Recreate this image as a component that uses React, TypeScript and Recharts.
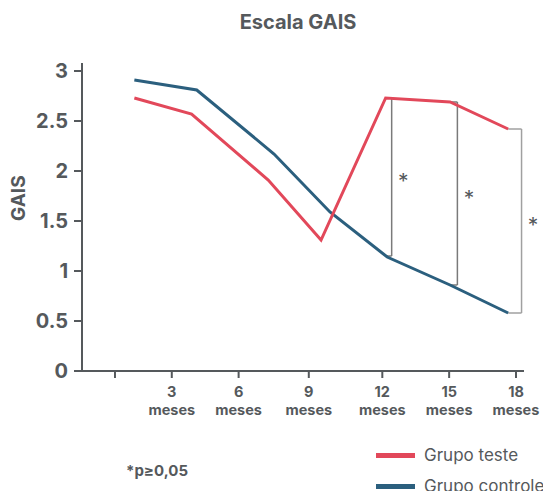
import React from "react";
import { LineChart, Line, XAxis, YAxis, ReferenceLine, ReferenceDot } from "recharts";

// posições no eixo x em "meses"
const xTickPos = [0, 2.55, 5.55, 8.7, 12, 15, 18];
const xTickLabels = ["", "3", "6", "9", "12", "15", "18"];
const yTicks = [0, 0.5, 1, 1.5, 2, 2.5, 3];

const testeX = [0.87, 3.44, 6.88, 9.25, 12.15, 15.04, 17.65];
const testeY = [2.73, 2.57, 1.91, 1.31, 2.73, 2.69, 2.42];
const controleX = [0.87, 3.67, 7.14, 9.65, 12.22, 15.04, 17.65];
const controleY = [2.91, 2.81, 2.17, 1.59, 1.14, 0.86, 0.58];

// colchetes de significância: ponto de partida, largura, topo, base
const bracketX = [12.15, 15.04, 17.65];
const bracketW = [0.27, 0.33, 0.6];
const bracketTop = [2.73, 2.69, 2.42];
const bracketBottom = [1.15, 0.86, 0.58];

const RED = "#e2485a";
const BLUE = "#2b5f7e";
const GRAY = "#55595c";
const FONT = "Inter, 'Open Sans', sans-serif";

const testeData = testeX.map((x, i) => ({ x, y: testeY[i] }));
const controleData = controleX.map((x, i) => ({ x, y: controleY[i] }));

const series = [
  { name: "Grupo teste", color: RED },
  { name: "Grupo controle", color: BLUE },
];

const XTick = (props: any) => {
  const { x, y, payload } = props;
  const i = xTickPos.indexOf(payload.value);
  const label = xTickLabels[i];
  if (!label) return null;
  return (
    <g>
      <text x={x} y={y + 19} textAnchor="middle" fill={GRAY} fontSize={14.5} fontWeight={700} fontFamily={FONT}>
        {label}
      </text>
      <text x={x} y={y + 37} textAnchor="middle" fill={GRAY} fontSize={14.5} fontWeight={700} fontFamily={FONT}>
        meses
      </text>
    </g>
  );
};

export default function App() {
  return (
    <div style={{ position: "absolute", left: 0, top: 0, width: 543, height: 491, background: "#fff", overflow: "hidden", fontFamily: FONT }}>
      <div style={{ position: "absolute", left: 0, width: 596, top: 10, textAlign: "center", fontSize: 20, fontWeight: 700, color: GRAY }}>
        Escala GAIS
      </div>
      <LineChart width={543} height={491} margin={{ top: 63, right: 19, left: 22, bottom: 70 }}>
        <XAxis
          type="number"
          dataKey="x"
          domain={[-1.48, 18.36]}
          ticks={xTickPos}
          allowDataOverflow
          height={50}
          tickSize={7}
          tickMargin={0}
          stroke={GRAY}
          strokeWidth={2}
          tick={<XTick />}
        />
        <YAxis
          type="number"
          domain={[0, 3.08]}
          ticks={yTicks}
          width={60}
          tickSize={8}
          tickMargin={6}
          stroke={GRAY}
          strokeWidth={2}
          tick={{ fill: GRAY, fontSize: 20, fontWeight: 700, fontFamily: FONT }}
          label={{ value: "GAIS", angle: -90, position: "insideLeft", offset: 0, dx: -4, dy: 4, fill: GRAY, fontSize: 19, fontWeight: 700, fontFamily: FONT }}
        />
        {bracketX.map((bx, i) => {
          const x1 = bx + bracketW[i];
          const c = i === 2 ? "#a0a0a0" : "#7a7a7a";
          return (
            <React.Fragment key={i}>
              <ReferenceLine segment={[{ x: bx, y: bracketTop[i] }, { x: x1, y: bracketTop[i] }]} stroke={c} strokeWidth={1.5} ifOverflow="visible" />
              <ReferenceLine segment={[{ x: x1, y: bracketTop[i] }, { x: x1, y: bracketBottom[i] }]} stroke={c} strokeWidth={1.5} ifOverflow="visible" />
              <ReferenceLine segment={[{ x: bx, y: bracketBottom[i] }, { x: x1, y: bracketBottom[i] }]} stroke={c} strokeWidth={1.5} ifOverflow="visible" />
              <ReferenceDot
                x={x1 + 0.52}
                y={(bracketTop[i] + bracketBottom[i]) / 2}
                r={0}
                ifOverflow="visible"
                shape={(p: any) => (
                  <text x={p.cx} y={p.cy + 12} textAnchor="middle" fill={GRAY} fontSize={21} fontFamily={FONT}>
                    *
                  </text>
                )}
              />
            </React.Fragment>
          );
        })}
        <Line data={controleData} dataKey="y" type="linear" stroke={BLUE} strokeWidth={3} dot={false} isAnimationActive={false} />
        <Line data={testeData} dataKey="y" type="linear" stroke={RED} strokeWidth={3} dot={false} isAnimationActive={false} />
      </LineChart>
      <div style={{ position: "absolute", left: 126, top: 461, fontSize: 15, fontWeight: 700, color: GRAY }}>*p≥0,05</div>
      {series.map((s, i) => (
        <div key={s.name} style={{ position: "absolute", left: 376, top: 445 + i * 31, display: "flex", alignItems: "center", height: 20 }}>
          <div style={{ width: 39, height: 5, background: s.color, marginRight: 9 }} />
          <span style={{ fontSize: 17, color: GRAY, whiteSpace: "nowrap" }}>{s.name}</span>
        </div>
      ))}
    </div>
  );
}
